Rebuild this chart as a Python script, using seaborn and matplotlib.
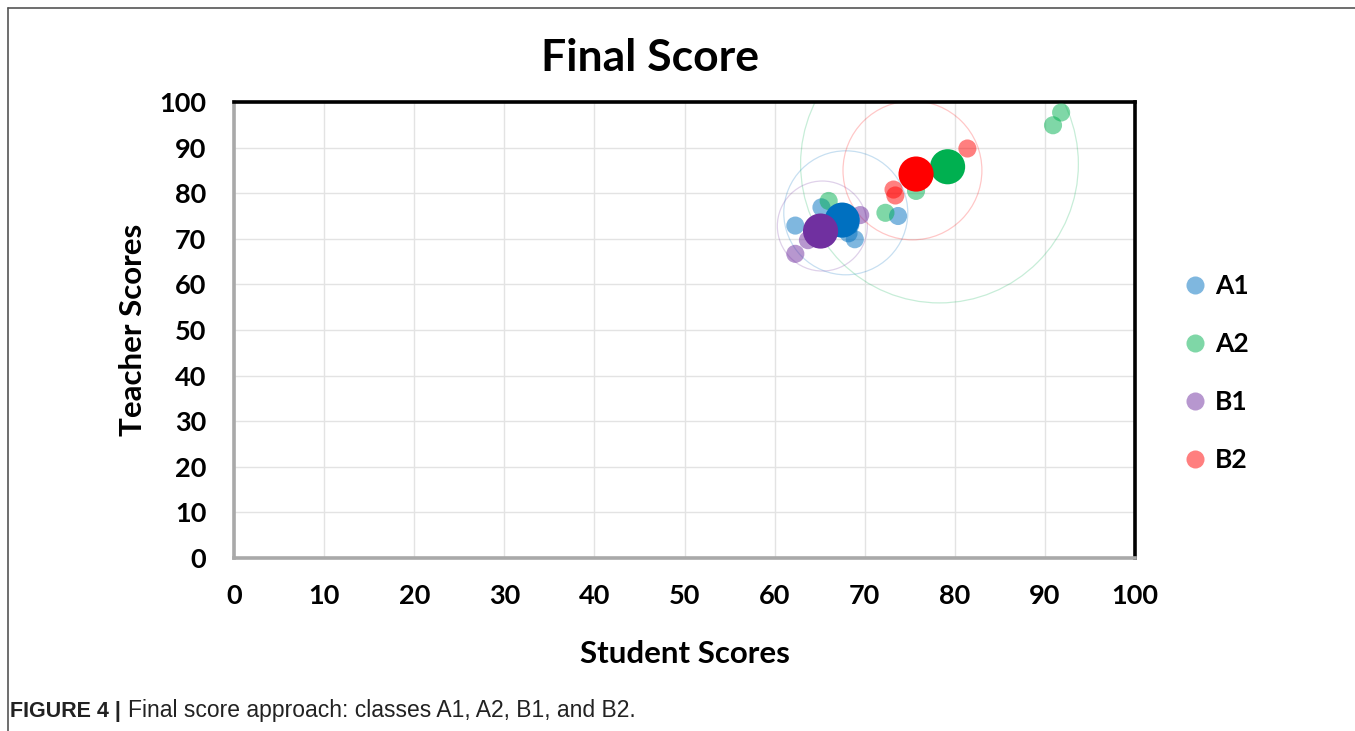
import matplotlib
matplotlib.use("Agg")
import matplotlib.pyplot as plt
from matplotlib.lines import Line2D
import seaborn as sns
import pandas as pd

# ---- data ----
classes = ["A1", "A2", "B1", "B2"]
mean_colors = ["#0070C0", "#00B050", "#7030A0", "#FF0000"]

a1_student = [62.3, 65.2, 73.7, 68.2, 68.9, 66.8, 68.4]
a1_teacher = [72.9, 76.9, 75.0, 71.2, 69.9, 75.0, 73.0]
a2_student = [91.8, 90.9, 75.7, 72.3, 66.0]
a2_teacher = [97.7, 94.9, 80.5, 75.7, 78.3]
b1_student = [69.5, 62.3, 63.7, 64.5]
b1_teacher = [75.2, 66.7, 69.7, 71.0]
b2_student = [81.4, 73.2, 73.4, 76.0]
b2_teacher = [89.8, 80.8, 79.5, 84.0]

mean_student = [67.5, 79.2, 65.1, 75.7]
mean_teacher = [74.1, 85.8, 71.7, 84.2]

ring_student = [67.9, 78.3, 65.3, 75.3]
ring_teacher = [75.7, 86.4, 72.8, 85.0]
ring_size = [7970, 40000, 4200, 10000]   # bubble (spread) sizes

x_ticks = [0, 10, 20, 30, 40, 50, 60, 70, 80, 90, 100]
y_ticks = [0, 10, 20, 30, 40, 50, 60, 70, 80, 90, 100]

# ---- build frames ----
pts = pd.DataFrame({
    "Student": a1_student + a2_student + b1_student + b2_student,
    "Teacher": a1_teacher + a2_teacher + b1_teacher + b2_teacher,
    "Class": (["A1"] * len(a1_student) + ["A2"] * len(a2_student)
              + ["B1"] * len(b1_student) + ["B2"] * len(b2_student)),
})
means = pd.DataFrame({"Student": mean_student, "Teacher": mean_teacher, "Class": classes})
rings = pd.DataFrame({"Student": ring_student, "Teacher": ring_teacher,
                      "Class": classes, "Size": ring_size})
palette = dict(zip(classes, mean_colors))

sns.set_theme(style="white")
FONT = ["Lato", "DejaVu Sans"]
plt.rcParams["font.family"] = FONT
plt.rcParams["text.color"] = "black"
plt.rcParams["axes.labelcolor"] = "black"
plt.rcParams["xtick.color"] = "black"
plt.rcParams["ytick.color"] = "black"

fig = plt.figure(figsize=(13.55, 7.31), dpi=100)
ax = fig.add_axes([234 / 1355, 1 - 558 / 731, (1135 - 234) / 1355, (558 - 102) / 731])

# spread rings
for i, row in rings.iterrows():
    ax.scatter(row["Student"], row["Teacher"], s=row["Size"], facecolors="none",
               edgecolors=palette[row["Class"]], linewidths=0.9, alpha=0.22, zorder=2)

sns.scatterplot(data=pts, x="Student", y="Teacher", hue="Class", palette=palette,
                hue_order=classes, s=170, alpha=0.5, edgecolor="none", legend=False,
                ax=ax, zorder=3)
sns.scatterplot(data=means, x="Student", y="Teacher", hue="Class", palette=palette,
                hue_order=classes, s=640, alpha=1.0, edgecolor="none", legend=False,
                ax=ax, zorder=4)

ax.set_xlim(0, 100)
ax.set_ylim(0, 100)
ax.set_xticks(x_ticks)
ax.set_yticks(y_ticks)
ax.set_xticklabels([str(t) for t in x_ticks], fontsize=19.5, fontweight="bold", color="black")
ax.set_yticklabels([str(t) for t in y_ticks], fontsize=19.5, fontweight="bold", color="black")
ax.tick_params(axis="x", length=0, pad=19)
ax.tick_params(axis="y", length=0, pad=20)
ax.grid(True, color="#e3e3e3", linewidth=1.0, zorder=0)
ax.set_axisbelow(True)

for side in ["top", "right"]:
    ax.spines[side].set_color("black")
    ax.spines[side].set_linewidth(2.6)
for side in ["left", "bottom"]:
    ax.spines[side].set_color("#a9a9a9")
    ax.spines[side].set_linewidth(2.6)

ax.set_xlabel("Student Scores", fontsize=22.5, fontweight="bold", labelpad=23, color="black")
ax.set_ylabel("Teacher Scores", fontsize=22.5, fontweight="bold", labelpad=9, color="black")

fig.text(650 / 1355, 1 - 58 / 731, "Final Score", fontsize=32, fontweight="bold",
         ha="center", va="center", color="black")

handles = [Line2D([0], [0], marker="o", linestyle="none", markersize=13,
                  markerfacecolor=c, markeredgecolor="none", alpha=0.5) for c in mean_colors]
fig.legend(handles, classes, loc="center left", bbox_to_anchor=(1157 / 1355, 1 - 373 / 731),
           frameon=False, prop={"family": FONT, "weight": "bold", "size": 19},
           labelspacing=1.29, handletextpad=0.2, handlelength=1.1, labelcolor="black")

# figure frame lines
fig.add_artist(Line2D([8 / 1355, 8 / 1355], [0, 1 - 8 / 731], transform=fig.transFigure,
                      color="#555555", linewidth=1.2))
fig.add_artist(Line2D([8 / 1355, 1], [1 - 8 / 731, 1 - 8 / 731], transform=fig.transFigure,
                      color="#555555", linewidth=1.2))

cap_font = ["Liberation Sans Narrow", "Liberation Sans", "DejaVu Sans"]
fig.text(10 / 1355, 1 - 711 / 731, "FIGURE 4 |", fontsize=15.5, fontweight="bold",
         family=cap_font, color="#222222", va="center")
fig.text(128 / 1355, 1 - 711 / 731, "Final score approach: classes A1, A2, B1, and B2.",
         fontsize=16.5, family=cap_font, color="#222222", va="center")

fig.savefig("out.png", dpi=100)
